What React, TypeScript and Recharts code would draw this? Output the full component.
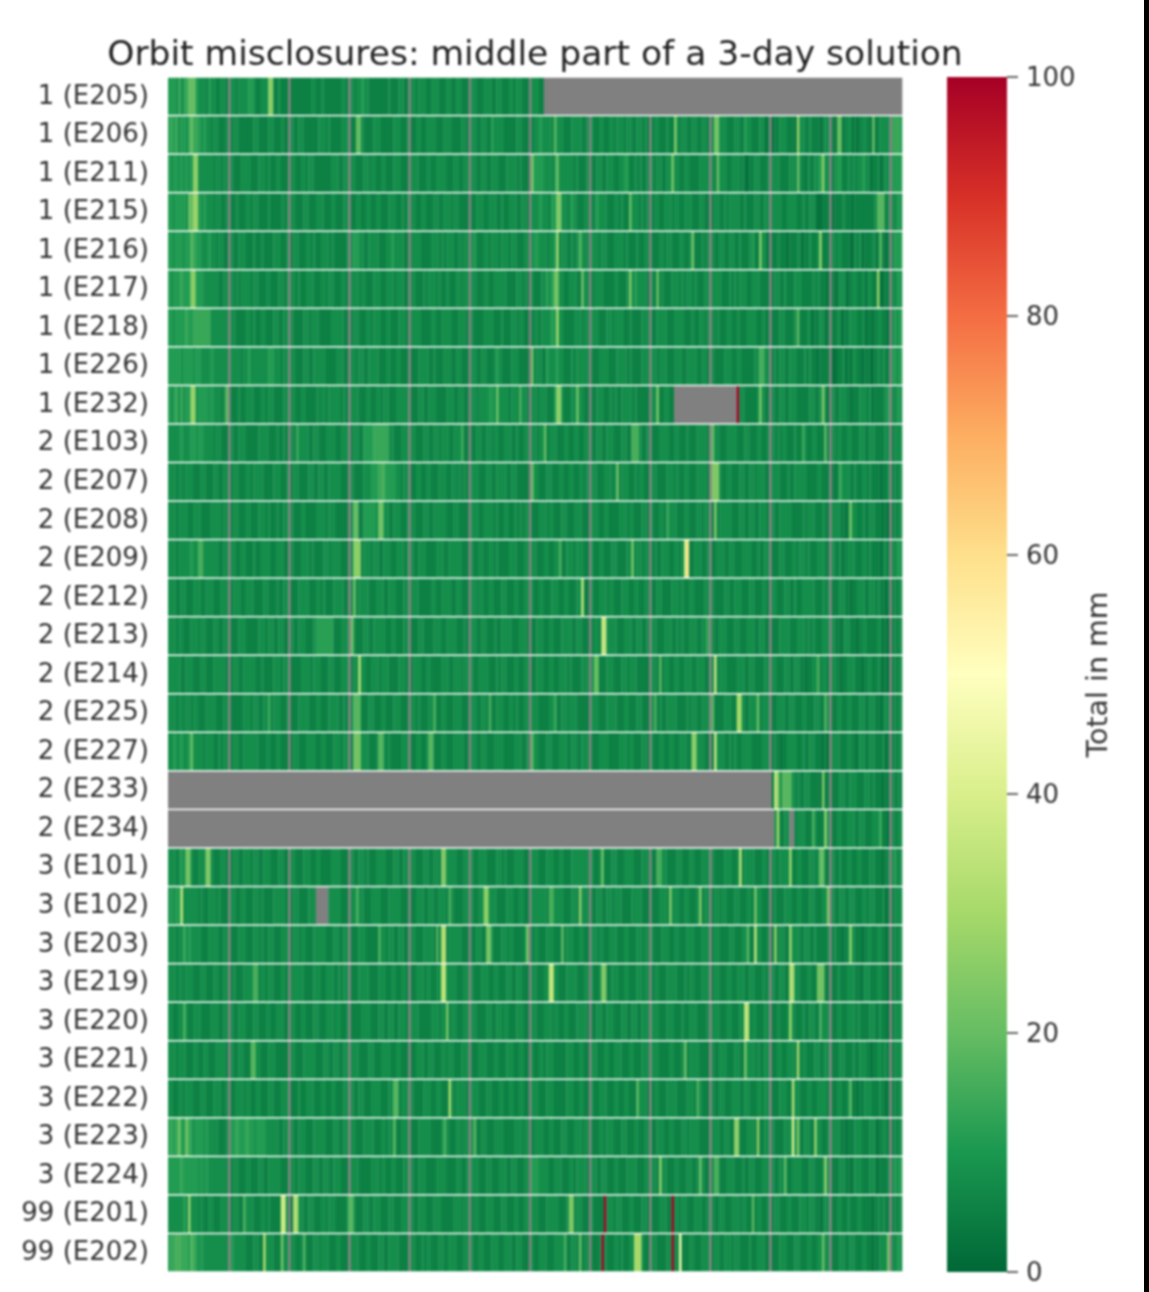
import { Bar, BarChart, Scatter, ScatterChart, XAxis, YAxis } from 'recharts';

const FONT = '"DejaVu Sans", sans-serif';
const TEXT_COLOR = '#333333';

const ROW_LABELS = [
  '1 (E205)', '1 (E206)', '1 (E211)', '1 (E215)', '1 (E216)', '1 (E217)', '1 (E218)', '1 (E226)', '1 (E232)',
  '2 (E103)', '2 (E207)', '2 (E208)', '2 (E209)', '2 (E212)', '2 (E213)', '2 (E214)', '2 (E225)', '2 (E227)',
  '2 (E233)', '2 (E234)',
  '3 (E101)', '3 (E102)', '3 (E203)', '3 (E219)', '3 (E220)', '3 (E221)', '3 (E222)', '3 (E223)', '3 (E224)',
  '99 (E201)', '99 (E202)'
];

const COLS = 293;
const GAP_COLS = [24, 48, 72, 96, 120, 144, 168, 192, 216, 240, 264, 288];

// one digit per epoch, level 2 is 2 mm and each level adds 3 mm, groups of 24 epochs
const ROW_TEXTURES = [
  '555464565665444354433443 444344445543344433334333 333333333443343333333443 443445443333333343334433 444344433444333443344333 444333444334433344344333 344433',
  '565645546666545443443334 434433333344333344333433 443344333333444343333444 333444333344433333444334 333443344443334443333443 444334433544443333344333 434454444344443334444334 343344334434443443344343 334433343344344334433443 343444433344335443334423 423344433323443343332344 232322344232344322334444 66665',
  '545545454555444444344344 343334444333444343344333 444334434433333334443344 344333443443344333444333 344433344334444333443344 344334433444333444434333 445555444354444444343334 433443344433445533434334 343443344444334433334444 443344433444342233443334 344433334433432433445444 434553343434454423342344 55555',
  '554555545555545444344334 333433344344333343333434 444333443334443334433344 333443344334433344433434 444334433344334443443333 333444334443343344433443 344454443554444345433344 434544433344343344443434 334433444344334443334433 334433434444334333443344 344443344443343344322333 223334333233333333444334 44454',
  '554555455665544454434433 443344433343343333444334 434433344343344434333334 445544334444333445444433 444443333444343444334344 445333443444344434433344 345544434454344334344444 444434433344443433343344 433344344333443344333434 443344334433433345333442 333433323334323343342333 243443332243423334332323 54555',
  '545556555555554444443344 343434444344333443334434 444343344433344344333443 344434433344433444344433 344333434443433433344344 444333443344444333344343 443334454544443344433444 334444333344333444544443 443434333444343443433344 344443334343444334443333 334433433344433334343332 332344323443342443332233 44454',
  '554555565566665544444444 444333344343344333443344 343333443444333334444433 334433344344433443334443 344443333443344443334443 443333444433343334434433 334434444555443333444344 444433344344443343333444 333444433344443334334434 343433344334333444433433 433344333344333432334423 333432334443342332344332 54545',
  '555554555545544445444444 444443445444444455444344 444333443344444333344433 344344334444333443344333 433344443343334443344333 444334433345433334443333 443443354445443334344444 433344443334444343333444 344344433344433444433443 443333444334433333443344 334344334443334343323333 322334232443323322343433 45545',
  '545646455544555545444344 433343344433344344333344 444334433334344344444343 344433344334434433344444 433344334443333444334433 344344445543444434433443 444344433354443334444433 333444334343344443433333 444433443334344443334433 333444343334443333344433 443344334443333344334442 343344432333444342333343 44454',
  '444445444554554444344333 443344433333444433343343 443344443344333444433444 334433555566665544333444 444333443344344433444333 333443344344334443343344 444344334443334433443344 333443344433344333444334 433344443344333433344443 334433344443334433344334 343434433343344334433343 443443344333443344333344 43444',
  '444344344433344333443344 334433344344443333444334 434433334433443344444333 343333444555666555544344 433443344333444334434343 344433344334444334433333 344433344333443344334434 344333444343344433434433 444333344434334433344443 333443344333443344344433 344433343344444333344333 332434443343344343332334 43434',
  '444344443344433334444344 434433344333444343343344 443334433334444344433333 344433555554454433444334 444333443344444333443333 344433444434334433434344 433344434433344333444333 344433443333444344333443 443344334443334433344344 334344444333443344334443 343344444333343444333433 344433234443343344333232 43434',
  '444344444544444444443344 344334433343344443344433 443334443433334434444333 343433444344334443344434 443344433334443344444333 443344334434333344433344 444333443344333444344433 443344333443333444344344 334334443344343333444334 333444334433344443343344 433344333443443433344433 343342344433344343332343 44454',
  '444334433344433444333444 334443344433334433343344 433344443334434333444433 344344443334443344433344 344433333443344443344333 444344334433344333443344 343344333444334433344333 443344434433344433443344 433443333444343344333344 443333443344433344333443 344333443343344444333434 433344332334443344343323 43434',
  '444344333444344333443344 433344433333444344334433 443344433344444433333444 344333443344444334433344 433344333344433444433343 344334433343344443334443 333444334433344443344333 334433344443334443344334 444333444334343344433443 343344433344333444334433 433344443334443434333444 343323443332344333344232 43434',
  '444443344433344333444443 334433444443343333444344 433334444344433344333444 334434433444344433334443 334443344333344433444344 443344443334344333443344 333444334433444343333444 344433344433344344433333 444333443344334443344433 443344433334443344333344 344333443344332334443443 344323344433323443343232 43434',
  '444344344344333444433344 433333444344334433444334 433344443334433344443343 344443334433344333444333 344343334443344333444333 444334433334443344343344 344433334443344344433333 344433344443334433344333 444343344443333434433444 443333444333443344433444 333444334433344333443334 433443344333443344332344 43434',
  '445445445444443444334344 434433444444333443344333 334433344443344333444344 433344443334444343333444 333443344433344333444433 344334433344443333444334 344433344333444334433444 433344443333444344333443 343344334433444333344433 333444334343344443333444 334323344443343344333232 344433344323443344333423 43434',
  '_'.repeat(241) + '334433444343344333322334 333443344433344343332334 43434',
  '_'.repeat(241) + '344334443344433344333444 334433444334433344443323 43444',
  '444345444433444344333443 334433444344334443334433 344333444334433334444333 443344343334444333443344 444333443344333444433344 343344433334434333444433 444433344433443334444444 443344333443334444333444 433344433334433344333444 443333444334434444333443 344344443334433344343333 443343344334433344333234 44534',
  '454554444444343344434333 444334433344343333444443 334433334443344444444333 344444333444433344444333 333444334433444344333344 443344344443333444334433 344444433344443334433444 333443344344433334444333 433344433444334433344344 334434433344333443344333 334333444334433344333444 343344334433344344333423 43444',
  '444344445444433344443344 433344433344343344333444 334434433344444333443344 433344433333444344334433 444333444434333344444333 333443344433344344333344 434433344433333444334433 344344334443334433344344 443334443344333444333444 334433334433344333444334 433344333444334433433334 434332344433323443344323 43434',
  '444344344433344333443344 334333444433344344333443 344444333344433444334344 433344443333444334433443 333444344334433444433344 343334443344333443344333 444333443344333444433344 443344333444334433344344 334433344443334344333444 434433344334443344333434 343344333444333443344333 433433344433234433344332 43434',
  '443344443344433334443344 343344433344333443344433 444334433344333444344334 433334444333443344334443 344433333444344334433344 444333344334434433344433 344333444344334433344443 333443344433344334433444 344433344433343344433334 344433344333444334433344 433433344433343344333444 333443344434333344334332 43444',
  '444344433344334433344443 343344333444433344433333 344333444443334433443344 344433334433344443344333 333444334433344344333444 433344433344333444334433 443344344433333444334433 444333443344433344333444 344433334433343344443333 443344433344333444343344 333443344433344333443344 433344333433444323344343 43444',
  '443344344433344333444334 333444344334433344333444 433343344433344334433344 443344333444433344333444 343333444334433344344443 344433344333443344334433 344433344433333444334433 443344433344334433344443 334433344443333444344333 443344333444334433344344 433344433344333443344443 333443344332334443334323 43434',
  '565645556545554544443334 555655565545555444443344 443344433344444333443344 444333444433344344333444 433344444333344433344344 344334433344443333444344 434444334433344333444344 433344344433344333443344 333444334433344344443333 344433443344333444343344 443333444344334433344334 344433233344433344323443 43434',
  '555556555555454544444444 434433344333443344444333 444344433344334433444333 344433333444344334433344 443344433334444333344334 344433344333444334433344 455544443344433344344443 444334433344333444433344 344344433344333443344433 344433344433343344333444 443344333444433344333444 433344332344433344323334 44545',
  '444444545444343344333444 434433344433344343333444 333444334433344344433334 344333443344433344333444 343344433344433333444344 334433344433344333443344 344433344444333443344333 443333444434433344333443 433344433344344333444334 443344333444344333344334 434433344333444344332344 333443343334433332343433 43434',
  '566656665565454444444444 554444433344334444333344 444334433344344433344333 344433344333443344443333 444334344333443344433344 443344333444334443344333 343344433344443334433344 433344433344343344334433 444333344344433344333444 334433444344333343344433 433344433344333443344344 433344334433344332334443 34454'
];

// [row, first column, last column, total in mm] for the bright stripes
const STRIPES = [
  [0, 8, 10, 20], [0, 40, 41, 26],
  [1, 9, 9, 20], [1, 75, 76, 20], [1, 154, 154, 18], [1, 202, 202, 24], [1, 218, 219, 22], [1, 251, 251, 28], [1, 267, 268, 20], [1, 281, 281, 20],
  [2, 10, 11, 26], [2, 145, 145, 22], [2, 155, 155, 20], [2, 201, 201, 22], [2, 219, 219, 20], [2, 251, 251, 20], [2, 261, 261, 26],
  [3, 8, 9, 20], [3, 10, 11, 28], [3, 155, 156, 24], [3, 184, 184, 20], [3, 283, 285, 18],
  [4, 9, 9, 18], [4, 155, 155, 28], [4, 164, 164, 18], [4, 209, 209, 22], [4, 236, 236, 24], [4, 260, 260, 26], [4, 284, 284, 18],
  [5, 9, 10, 26], [5, 154, 155, 22], [5, 165, 165, 20], [5, 184, 184, 24], [5, 195, 195, 20], [5, 283, 283, 28],
  [6, 14, 16, 14], [6, 155, 155, 28], [6, 251, 251, 18],
  [7, 145, 145, 20], [7, 236, 237, 16],
  [8, 9, 10, 28], [8, 23, 23, 20], [8, 131, 131, 20], [8, 140, 140, 16], [8, 155, 156, 26], [8, 163, 163, 20], [8, 195, 195, 22], [8, 227, 227, 100], [8, 236, 236, 22], [8, 261, 261, 24], [8, 287, 287, 12],
  [9, 51, 51, 14], [9, 84, 87, 14], [9, 117, 117, 14], [9, 150, 150, 20], [9, 185, 187, 16], [9, 217, 217, 20], [9, 253, 253, 14], [9, 262, 262, 18],
  [10, 85, 85, 16], [10, 145, 145, 20], [10, 179, 179, 20], [10, 217, 219, 24], [10, 268, 268, 14],
  [11, 74, 75, 20], [11, 84, 85, 22], [11, 199, 199, 14], [11, 218, 218, 24], [11, 272, 272, 22],
  [12, 12, 13, 16], [12, 74, 76, 26], [12, 156, 156, 16], [12, 185, 185, 22], [12, 206, 206, 38], [12, 207, 207, 60],
  [13, 74, 74, 20], [13, 165, 165, 34],
  [14, 59, 65, 12], [14, 73, 73, 22], [14, 173, 174, 36], [14, 215, 215, 14],
  [15, 76, 76, 32], [15, 170, 171, 20], [15, 196, 196, 18], [15, 218, 218, 36], [15, 259, 259, 16],
  [16, 40, 40, 14], [16, 74, 76, 18], [16, 106, 106, 16], [16, 128, 128, 16], [16, 154, 154, 14], [16, 194, 194, 16], [16, 217, 217, 18], [16, 227, 228, 30], [16, 235, 235, 20], [16, 262, 262, 16],
  [17, 9, 9, 20], [17, 74, 76, 22], [17, 84, 85, 18], [17, 104, 105, 18], [17, 145, 145, 18], [17, 209, 210, 26], [17, 218, 218, 36],
  [18, 242, 242, 36], [18, 243, 243, 26], [18, 245, 248, 18], [18, 261, 261, 24],
  [19, 243, 243, 30], [19, 257, 257, 16], [19, 262, 262, 26], [19, 284, 284, 14],
  [20, 7, 8, 22], [20, 15, 16, 24], [20, 109, 110, 24], [20, 173, 173, 20], [20, 195, 196, 16], [20, 228, 228, 34], [20, 248, 248, 28], [20, 260, 261, 20],
  [21, 5, 5, 34], [21, 75, 75, 16], [21, 112, 112, 16], [21, 126, 127, 26], [21, 152, 153, 16], [21, 164, 164, 26], [21, 200, 200, 24], [21, 212, 212, 24], [21, 234, 234, 22], [21, 263, 263, 24],
  [22, 6, 6, 14], [22, 84, 84, 16], [22, 107, 107, 16], [22, 109, 110, 32], [22, 127, 128, 22], [22, 143, 143, 22], [22, 157, 157, 18], [22, 231, 231, 18], [22, 234, 234, 34], [22, 242, 242, 26], [22, 248, 248, 28], [22, 272, 272, 26],
  [23, 34, 35, 16], [23, 109, 110, 34], [23, 152, 153, 36], [23, 173, 174, 24], [23, 248, 249, 32], [23, 259, 261, 22],
  [24, 6, 6, 16], [24, 111, 111, 22], [24, 230, 231, 34], [24, 248, 248, 28], [24, 260, 260, 16],
  [25, 33, 34, 18], [25, 206, 206, 20], [25, 230, 230, 22], [25, 251, 251, 30],
  [26, 90, 91, 18], [26, 112, 112, 30], [26, 187, 187, 18], [26, 211, 211, 16], [26, 249, 249, 32], [26, 272, 272, 18],
  [27, 4, 4, 22], [27, 7, 7, 22], [27, 90, 90, 18], [27, 110, 110, 16], [27, 122, 122, 18], [27, 226, 227, 26], [27, 235, 235, 26], [27, 249, 249, 40], [27, 251, 251, 24], [27, 258, 258, 26],
  [28, 196, 196, 26], [28, 212, 212, 20], [28, 218, 219, 16], [28, 246, 246, 18], [28, 262, 262, 26],
  [29, 8, 8, 26], [29, 30, 30, 16], [29, 45, 46, 38], [29, 50, 51, 32], [29, 72, 73, 18], [29, 160, 161, 24], [29, 174, 174, 100], [29, 201, 201, 100], [29, 233, 233, 18],
  [30, 3, 4, 16], [30, 9, 9, 18], [30, 38, 38, 30], [30, 45, 45, 22], [30, 54, 54, 16], [30, 158, 158, 16], [30, 164, 164, 20], [30, 173, 173, 100], [30, 186, 188, 30], [30, 201, 201, 100], [30, 204, 204, 46], [30, 261, 261, 20], [30, 287, 287, 22]
];

// [row, first column, last column] where the satellite has no solution
const MISSING_SPANS = [
  [0, 150, 292],
  [8, 202, 226],
  [18, 0, 240],
  [19, 0, 241],
  [19, 248, 249],
  [21, 59, 63]
];

const COLOR_STOPS = ['#006837', '#1a9850', '#66bd63', '#a6d96a', '#d9ef8b', '#ffffbf', '#fee08b', '#fdae61', '#f46d43', '#d73027', '#a50026'];
const COLORBAR_TICKS = [0, 20, 40, 60, 80, 100];
const COLORBAR_DATA = [{ name: 'Total in mm', total: 100 }];

const PLOT_LEFT = 168;
const PLOT_TOP = 77;
const PLOT_WIDTH = 734;
const PLOT_HEIGHT = 1195;
const CELL_WIDTH = PLOT_WIDTH / COLS;
const CELL_HEIGHT = PLOT_HEIGHT / ROW_LABELS.length;
const ROW_TICKS = ROW_LABELS.map((_, i) => i + 0.5);

function hex(c: string, i: number) {
  return parseInt(c.slice(i, i + 2), 16);
}

function colorFor(value: number | null) {
  if (value === null) return '#808080';
  const pos = (Math.min(Math.max(value, 0), 100) / 100) * (COLOR_STOPS.length - 1);
  const lo = Math.min(Math.floor(pos), COLOR_STOPS.length - 2);
  const t = pos - lo;
  const a = COLOR_STOPS[lo];
  const b = COLOR_STOPS[lo + 1];
  const mix = (i: number) => Math.round(hex(a, i) + (hex(b, i) - hex(a, i)) * t);
  return `rgb(${mix(1)},${mix(3)},${mix(5)})`;
}

function rowValues(row: number) {
  const chars = ROW_TEXTURES[row].replace(/ /g, '');
  const values: (number | null)[] = [];
  for (let c = 0; c < COLS; c++) {
    const ch = chars[c] ?? chars[chars.length - 1];
    values.push(ch === '_' ? null : (Number(ch) - 2) * 3 + 2);
  }
  GAP_COLS.forEach(c => (values[c] = null));
  STRIPES.filter(s => s[0] === row).forEach(([, from, to, v]) => {
    for (let c = from; c <= to; c++) values[c] = v;
  });
  MISSING_SPANS.filter(s => s[0] === row).forEach(([, from, to]) => {
    for (let c = from; c <= to; c++) values[c] = null;
  });
  return values;
}

// neighbouring epochs with the same value become one cell
function buildCells() {
  const cells: { x: number; y: number; span: number; value: number | null }[] = [];
  ROW_LABELS.forEach((_, row) => {
    const values = rowValues(row);
    let start = 0;
    for (let c = 1; c <= COLS; c++) {
      if (c === COLS || values[c] !== values[start]) {
        cells.push({ x: (start + c) / 2, y: row + 0.5, span: c - start, value: values[start] });
        start = c;
      }
    }
  });
  return cells;
}

const cells = buildCells();

const HeatCell = (props: any) => {
  const { cx, cy, payload } = props;
  const w = payload.span * CELL_WIDTH;
  const h = CELL_HEIGHT - 1.5;
  return <rect x={cx - w / 2} y={cy - h / 2} width={w + 0.3} height={h} fill={colorFor(payload.value)} />;
};

export default function App() {
  return (
    <div style={{ position: 'absolute', left: 0, top: 0, width: 1149, height: 1292, overflow: 'hidden', background: '#fff' }}>
      <div style={{ position: 'absolute', inset: 0, filter: 'blur(0.8px)' }}>
        <ScatterChart
          width={1149}
          height={1292}
          margin={{ top: PLOT_TOP, left: 0, right: 1149 - PLOT_LEFT - PLOT_WIDTH, bottom: 1292 - PLOT_TOP - PLOT_HEIGHT }}
        >
          <XAxis type="number" dataKey="x" domain={[0, COLS]} hide />
          <YAxis
            type="number"
            dataKey="y"
            domain={[0, ROW_LABELS.length]}
            reversed
            width={PLOT_LEFT}
            ticks={ROW_TICKS}
            interval={0}
            tickFormatter={(v: number) => ROW_LABELS[Math.floor(v)]}
            axisLine={false}
            tickLine={false}
            tickSize={0}
            tickMargin={19}
            tick={{ fill: TEXT_COLOR, fontSize: 26, fontFamily: FONT, dy: -2 }}
          />
          <Scatter data={cells} shape={HeatCell} isAnimationActive={false} />
        </ScatterChart>

        <div style={{ position: 'absolute', left: 947, top: 0 }}>
          <BarChart
            width={200}
            height={1292}
            data={COLORBAR_DATA}
            barCategoryGap={0}
            margin={{ top: PLOT_TOP, left: 0, right: 0, bottom: 1292 - PLOT_TOP - PLOT_HEIGHT }}
          >
            <defs>
              <linearGradient id="totalScale" x1="0" y1="1" x2="0" y2="0">
                {COLOR_STOPS.map((c, i) => (
                  <stop key={c} offset={`${i * 10}%`} stopColor={c} />
                ))}
              </linearGradient>
            </defs>
            <XAxis dataKey="name" hide />
            <YAxis
              orientation="right"
              width={140}
              domain={[0, 100]}
              ticks={COLORBAR_TICKS}
              interval={0}
              axisLine={false}
              tickSize={11}
              tickMargin={8}
              tickLine={{ stroke: TEXT_COLOR, strokeWidth: 1.5 }}
              tick={{ fill: TEXT_COLOR, fontSize: 26, fontFamily: FONT }}
              label={{ value: 'Total in mm', angle: -90, position: 'center', dx: 20, fill: TEXT_COLOR, fontSize: 28.5, fontFamily: FONT }}
            />
            <Bar dataKey="total" fill="url(#totalScale)" isAnimationActive={false} />
          </BarChart>
        </div>

        <div
          style={{
            position: 'absolute',
            left: PLOT_LEFT,
            top: 34,
            width: PLOT_WIDTH,
            display: 'flex',
            justifyContent: 'center',
            fontFamily: FONT,
            fontSize: 34.5,
            lineHeight: '38px',
            color: '#222',
            whiteSpace: 'nowrap'
          }}
        >
          Orbit misclosures: middle part of a 3-day solution
        </div>
      </div>
      <div style={{ position: 'absolute', left: 1144, top: 0, width: 5, height: 1292, background: '#000' }} />
    </div>
  );
}
